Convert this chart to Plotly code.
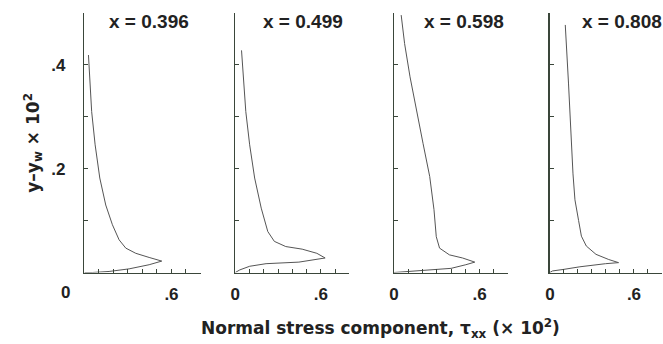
import plotly.graph_objects as go

# ---- data ----
panel_titles = ["x = 0.396", "x = 0.499", "x = 0.598", "x = 0.808"]

tau1 = [0.0, 0.055, 0.17, 0.308, 0.446, 0.533, 0.446, 0.354, 0.285, 0.239, 0.193, 0.147, 0.106, 0.074, 0.05, 0.037, 0.028]
yy1 = [0.0, 0.0, 0.002, 0.007, 0.015, 0.022, 0.029, 0.037, 0.047, 0.063, 0.092, 0.130, 0.182, 0.246, 0.31, 0.374, 0.419]

tau2 = [0.0, 0.032, 0.101, 0.216, 0.446, 0.63, 0.572, 0.469, 0.354, 0.274, 0.228, 0.182, 0.136, 0.101, 0.074, 0.055, 0.044]
yy2 = [0.0, 0.005, 0.012, 0.017, 0.020, 0.028, 0.037, 0.045, 0.050, 0.060, 0.079, 0.124, 0.182, 0.246, 0.31, 0.374, 0.428]

tau3 = [0.0, 0.1, 0.26, 0.4, 0.503, 0.566, 0.48, 0.388, 0.319, 0.296, 0.28, 0.25, 0.203, 0.157, 0.112, 0.074, 0.05]
yy3 = [0.0, 0.002, 0.005, 0.008, 0.015, 0.020, 0.028, 0.034, 0.047, 0.069, 0.121, 0.185, 0.249, 0.313, 0.377, 0.441, 0.496]

tau4 = [0.0, 0.019, 0.099, 0.214, 0.398, 0.49, 0.42, 0.329, 0.26, 0.225, 0.205, 0.179, 0.165, 0.157, 0.145, 0.133, 0.11]
yy4 = [0.0, 0.003, 0.006, 0.011, 0.017, 0.019, 0.025, 0.035, 0.051, 0.07, 0.1, 0.14, 0.19, 0.237, 0.30, 0.365, 0.477]

x_label_vals = [0, 0.6]
x_label_text = ["0", ".6"]
x_label_vals_first = [0.6]
x_label_text_first = [".6"]
y_label_vals = [0.2, 0.4]
y_label_text = [".2", ".4"]
tick_step = 0.1

series = [(tau1, yy1), (tau2, yy2), (tau3, yy3), (tau4, yy4)]

# ---- layout geometry ----
W, H = 663, 344
x_doms_px = [(80, 197), (232, 347), (392, 507), (549, 662)]
y_top_px, y_bot_px = 13, 272.5
ydom = [1 - y_bot_px / H, 1 - y_top_px / H]

axis_col = "#3a463a"
text_col = "#222222"
curve_col = "#555555"
FONT = "Liberation Sans, Arial, Helvetica, sans-serif"
WIDE = "DejaVu Sans, Liberation Sans, sans-serif"

minor = dict(ticks="inside", ticklen=4, tickwidth=1, tickcolor=axis_col,
             tick0=0, dtick=tick_step, showgrid=False)

fig = go.Figure()
layout = dict(
    width=W, height=H,
    margin=dict(l=0, r=0, t=0, b=0),
    paper_bgcolor="white", plot_bgcolor="white",
    showlegend=False,
    font=dict(family=FONT, color=text_col),
)

for i, (xs, ys) in enumerate(series):
    n = "" if i == 0 else str(i + 1)
    fig.add_trace(go.Scatter(x=xs, y=ys, mode="lines",
                             line=dict(color=curve_col, width=1),
                             xaxis="x" + n, yaxis="y" + n, hoverinfo="skip"))
    x0, x1 = x_doms_px[i]
    xv = x_label_vals_first if i == 0 else x_label_vals
    xt = x_label_text_first if i == 0 else x_label_text
    layout["xaxis" + n] = dict(
        domain=[x0 / W, x1 / W], range=[0, 0.8], anchor="y" + n,
        showgrid=False, zeroline=False, showline=True,
        linecolor=axis_col, linewidth=1.5,
        ticks="inside", ticklen=4, tickwidth=1, tickcolor=axis_col,
        tickmode="array", tickvals=xv, ticktext=["<b>%s</b>" % t for t in xt],
        minor=minor,
        tickfont=dict(size=17, color=text_col),
        ticklabelstandoff=6,
        fixedrange=True,
    )
    layout["yaxis" + n] = dict(
        domain=ydom, range=[0, 0.5], anchor="x" + n,
        showgrid=False, zeroline=False, showline=True,
        linecolor=axis_col, linewidth=1.5,
        ticks="inside", ticklen=4, tickwidth=1, tickcolor=axis_col,
        tickmode="array", tickvals=y_label_vals, ticktext=["<b>%s</b>" % t for t in y_label_text],
        showticklabels=(i == 0),
        minor=minor,
        tickfont=dict(size=17, color=text_col),
        ticklabelstandoff=14,
        fixedrange=True,
    )

annotations = []
title_x_px = [145, 300, 462, 622]
for i, t in enumerate(panel_titles):
    annotations.append(dict(text="<b>%s</b>" % t, x=title_x_px[i] / W, y=1 - 21 / H,
                            xref="paper", yref="paper", showarrow=False,
                            xanchor="center", yanchor="middle",
                            font=dict(size=19, color=text_col, family=FONT)))
# origin label of the first panel
annotations.append(dict(text="<b>0</b>", x=61 / W, y=1 - 292 / H, xref="paper", yref="paper",
                        showarrow=False, xanchor="center", yanchor="middle",
                        font=dict(size=17, color=text_col, family=FONT)))
# y title
annotations.append(dict(text="<b>y–y<sub>w</sub> × 10<sup>2</sup></b>", x=28 / W, y=1 - 143 / H,
                        xref="paper", yref="paper", showarrow=False, textangle=-90,
                        xanchor="center", yanchor="middle",
                        font=dict(size=17, color=text_col, family=WIDE)))
# x title
annotations.append(dict(text="<b>Normal stress component, τ<sub>xx</sub> (× 10<sup>2</sup>)</b>",
                        x=378 / W, y=1 - 328 / H, xref="paper", yref="paper", showarrow=False,
                        xanchor="center", yanchor="middle",
                        font=dict(size=17, color=text_col, family=WIDE)))
layout["annotations"] = annotations

fig.update_layout(**layout)
fig.write_html("out.html", config={"displayModeBar": False, "staticPlot": True})

# remove default page margin so the figure sits at the window's top-left corner
with open("out.html", "r", encoding="utf-8") as f:
    html = f.read()
html = html.replace("<head>", "<head><style>html,body{margin:0;padding:0;overflow:hidden;}</style>", 1)
with open("out.html", "w", encoding="utf-8") as f:
    f.write(html)
